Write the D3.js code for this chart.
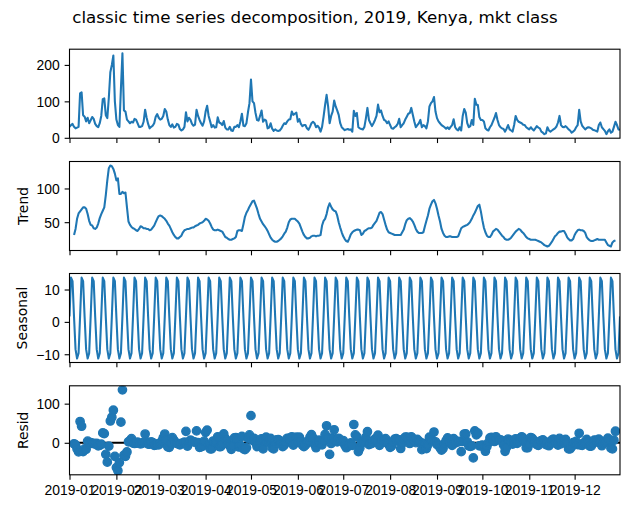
<!DOCTYPE html>
<meta charset="utf-8">
<head>
	<script src="https://cdnjs.cloudflare.com/ajax/libs/d3/7.8.5/d3.min.js"></script>
	<style>
		body {
			margin: 0;
			background: #fff;
		}
		svg {
			display: block;
			font-family: "DejaVu Sans", sans-serif;
		}
		.axis line {
			stroke: #000;
			stroke-width: 1.1px;
		}
		.axis text {
			font-size: 13.9px;
			fill: #000;
		}
		.frame {
			fill: none;
			stroke: #000;
			stroke-width: 1.1px;
		}
	</style>
</head>

<body>
	<div id="chart"></div>
</body>

<script type="text/javascript">

	// daily values, 2019-01-01 .. 2019-12-31, one row per week
	var observed = [
		30, 35, 38, 30, 26, 28, 30,
		122, 125, 62, 58, 45, 55, 40,
		48, 57, 52, 38, 32, 29, 40,
		60, 106, 108, 62, 54, 110, 180,
		200, 226, 100, 50, 35, 30, 135,
		232, 75, 72, 50, 45, 40, 44,
		42, 52, 50, 40, 30, 30, 32,
		44, 77, 55, 38, 26, 30, 33,
		40, 58, 65, 55, 50, 52, 60,
		79, 72, 50, 35, 30, 37, 28,
		30, 38, 36, 24, 20, 23, 30,
		70, 45, 55, 49, 38, 33, 36,
		77, 60, 49, 40, 33, 45, 72,
		88, 60, 45, 29, 35, 28, 29,
		56, 42, 40, 35, 46, 28, 23,
		23, 30, 20, 19, 30, 30, 35,
		29, 45, 66, 33, 32, 40, 70,
		95, 160, 100, 95, 68, 49, 47,
		60, 75, 44, 50, 47, 26, 28,
		40, 25, 19, 23, 20, 19, 20,
		25, 33, 40, 38, 45, 50, 51,
		72, 63, 66, 69, 44, 51, 38,
		32, 35, 35, 26, 22, 30, 40,
		44, 40, 29, 33, 28, 17, 30,
		58, 90, 118, 86, 40, 60, 72,
		102, 86, 75, 63, 40, 29, 25,
		21, 23, 24, 22, 23, 17, 74,
		60, 68, 29, 26, 24, 23, 30,
		54, 82, 49, 40, 32, 40, 49,
		60, 91, 70, 75, 60, 49, 47,
		40, 45, 35, 26, 25, 29, 32,
		38, 52, 29, 35, 40, 50, 58,
		66, 68, 82, 63, 45, 29, 35,
		40, 49, 29, 35, 32, 26, 45,
		86, 95, 100, 112, 72, 54, 45,
		40, 35, 32, 29, 25, 29, 24,
		30, 35, 51, 29, 23, 20, 29,
		20, 60, 79, 69, 40, 29, 32,
		49, 35, 107, 91, 90, 57, 49,
		49, 45, 26, 22, 20, 29, 35,
		45, 55, 68, 49, 35, 29, 26,
		24, 17, 25, 35, 23, 20, 17,
		35, 60, 49, 44, 42, 40, 36,
		35, 29, 26, 23, 29, 24, 20,
		26, 32, 28, 26, 17, 14, 10,
		12, 29, 20, 17, 20, 23, 26,
		31, 42, 60, 35, 30, 29, 32,
		28, 23, 20, 14, 17, 21, 29,
		35, 77, 45, 33, 28, 23, 27,
		29, 28, 26, 22, 21, 19, 17,
		35, 42, 29, 24, 19, 10, 18,
		23, 14, 17, 30, 44, 35, 23,
		22
	];

	var trend = [
		null, null, null, 31, 40, 55, 63,
		66, 69, 72, 72, 70, 62, 52,
		46, 45, 41, 40, 42, 48, 56,
		62, 67, 72, 90, 112, 130, 134,
		133, 129, 122, 112, 115, 92, 92,
		95, 93, 94, 72, 51, 46, 43,
		41, 40, 38, 37, 40, 44, 43,
		41, 41, 40, 40, 38, 39, 42,
		45, 50, 55, 59, 60, 59, 57,
		55, 52, 48, 45, 40, 35, 31,
		28, 26, 26, 28, 30, 35, 38,
		39, 40, 40, 41, 42, 42, 44,
		45, 46, 48, 49, 50, 52, 55,
		54, 52, 48, 43, 39, 38, 38,
		39, 38, 37, 36, 32, 28, 27,
		25, 24, 24, 25, 26, 28, 37,
		38, 38, 37, 47, 58, 64, 68,
		73, 77, 81, 82, 76, 70, 62,
		55, 51, 47, 44, 41, 37, 32,
		27, 24, 22, 21, 21, 22, 24,
		26, 29, 33, 36, 42, 50, 54,
		55, 55, 55, 53, 51, 48, 42,
		36, 31, 28, 26, 26, 27, 29,
		30, 30, 29, 30, 30, 31, 45,
		52, 55, 62, 72, 78, 73, 69,
		67, 66, 60, 50, 42, 35, 29,
		25, 22, 21, 26, 32, 35, 37,
		38, 39, 39, 38, 31, 33, 37,
		38, 40, 41, 41, 42, 46, 49,
		52, 58, 64, 65, 62, 54, 46,
		39, 35, 34, 33, 32, 31, 31,
		31, 31, 31, 35, 39, 47, 53,
		55, 56, 54, 51, 46, 40, 36,
		34, 34, 34, 35, 44, 52, 60,
		70, 76, 81, 83, 78, 70, 60,
		51, 40, 34, 30, 28, 28, 29,
		29, 28, 28, 28, 28, 29, 35,
		41, 43, 44, 45, 46, 48, 51,
		55, 60, 64, 69, 74, 76, 66,
		53, 42, 35, 30, 28, 28, 31,
		36, 38, 40, 39, 36, 33, 30,
		28, 25, 24, 24, 25, 27, 30,
		33, 36, 38, 40, 39, 36, 34,
		31, 28, 26, 25, 24, 24, 24,
		24, 23, 22, 21, 20, 18, 16,
		15, 14, 15, 18, 21, 25, 29,
		31, 34, 36, 36, 37, 37, 33,
		28, 25, 23, 23, 25, 31, 35,
		38, 39, 38, 38, 37, 34, 28,
		25, 23, 22, 22, 23, 24, 25,
		24, 24, 24, 24, 24, 20, 16,
		15, 14, 20, 22, 23, null, null,
		null
	];

	// one weekly cycle of the seasonal component (period 7, starting 2019-01-01)
	var seasonalPattern = [1.7, 13.7, 12.6, 1.5, -8.5, -11.3, -9.7];

	var monthLabels = ["2019-01", "2019-02", "2019-03", "2019-04", "2019-05", "2019-06",
		"2019-07", "2019-08", "2019-09", "2019-10", "2019-11", "2019-12"];

	var observedTicks = [0, 100, 200];
	var trendTicks = [50, 100];
	var seasonalTicks = [-10, 0, 10];
	var residTicks = [0, 100];

	var title = "classic time series decomposition, 2019, Kenya, mkt class";

	// additive decomposition: seasonal repeats weekly, resid is what is left over
	var seasonal = observed.map(function(v, i) { return seasonalPattern[i % 7]; });
	var resid = observed.map(function(v, i) {
		return trend[i] == null ? null : v - trend[i] - seasonal[i];
	});

	var parseMonth = d3.utcParse("%Y-%m");
	var day0 = Date.UTC(2019, 0, 1);
	var dates = observed.map(function(v, i) { return new Date(day0 + i * 864e5); });
	var monthDates = monthLabels.map(parseMonth);

	var W = 630, H = 509;
	var left = 69.5, right = 620;
	var panelH = 89;
	var tops = [49.2, 161.5, 273.5, 385.8];
	var tickLen = 4.86;
	var blue = "#1f77b4";

	var svg = d3.select("#chart").append("svg")
		.attr("width", W)
		.attr("height", H);

	svg.append("text")
		.attr("x", 315)
		.attr("y", 22.5)
		.attr("text-anchor", "middle")
		.style("font-size", "16.7px")
		.style("fill", "#000")
		.text(title);

	var x = d3.scaleUtc()
		.domain([dates[0], dates[dates.length - 1]])
		.range([left, right]);

	function padded(values) {
		var ext = d3.extent(values.filter(function(v) { return v != null; }));
		var r = ext[1] - ext[0];
		return [ext[0] - 0.05 * r, ext[1] + 0.05 * r];
	}

	var panels = [
		{ values: observed, ticks: observedTicks, label: null, kind: "line" },
		{ values: trend, ticks: trendTicks, label: "Trend", kind: "line" },
		{ values: seasonal, ticks: seasonalTicks, label: "Seasonal", kind: "line" },
		{ values: resid, ticks: residTicks, label: "Resid", kind: "dots" }
	];

	panels.forEach(function(p, k) {
		var top = tops[k], bottom = top + panelH;
		var y = d3.scaleLinear()
			.domain(padded(p.values))
			.range([bottom, top]);

		var g = svg.append("g");

		g.append("clipPath")
			.attr("id", "clip" + k)
			.append("rect")
			.attr("x", left)
			.attr("y", top)
			.attr("width", right - left)
			.attr("height", panelH);

		var plot = g.append("g").attr("clip-path", "url(#clip" + k + ")");

		if (p.kind == "line") {
			var line = d3.line()
				.defined(function(d) { return d != null; })
				.x(function(d, i) { return x(dates[i]); })
				.y(function(d) { return y(d); });

			plot.append("path")
				.datum(p.values)
				.attr("d", line)
				.style("fill", "none")
				.style("stroke", blue)
				.style("stroke-width", 2.08)
				.style("stroke-linejoin", "round");
		} else {
			plot.append("line")
				.attr("x1", x(dates[0]))
				.attr("x2", x(dates[dates.length - 1]))
				.attr("y1", y(0))
				.attr("y2", y(0))
				.style("stroke", "#000")
				.style("stroke-width", 2.08);

			plot.selectAll("circle")
				.data(p.values.map(function(v, i) { return { d: dates[i], v: v }; })
					.filter(function(o) { return o.v != null; }))
				.enter().append("circle")
				.attr("cx", function(o) { return x(o.d); })
				.attr("cy", function(o) { return y(o.v); })
				.attr("r", 4.17)
				.style("fill", blue)
				.style("stroke", blue)
				.style("stroke-width", 1.39);
		}

		var yaxis = g.append("g")
			.attr("class", "axis")
			.attr("transform", "translate(" + left + ",0)")
			.call(d3.axisLeft(y)
				.tickValues(p.ticks)
				.tickSize(tickLen)
				.tickPadding(tickLen)
				.tickFormat(d3.format("d")));
		yaxis.select(".domain").remove();
		yaxis.selectAll("text").attr("dy", "0.36em");

		var xaxis = g.append("g")
			.attr("class", "axis")
			.attr("transform", "translate(0," + bottom + ")")
			.call(d3.axisBottom(x)
				.tickValues(monthDates)
				.tickSize(tickLen)
				.tickFormat(function(d, i) { return monthLabels[i]; }));
		xaxis.select(".domain").remove();
		if (k < panels.length - 1) {
			xaxis.selectAll("text").remove();
		} else {
			xaxis.selectAll("text").attr("y", 20.7).attr("dy", null);
		}

		g.append("rect")
			.attr("class", "frame")
			.attr("x", left)
			.attr("y", top)
			.attr("width", right - left)
			.attr("height", panelH);

		if (p.label) {
			// getBBox is in the axis group's own frame, so add its offset back
			var box = yaxis.node().getBBox();
			var lx = left + box.x - 5.6 - 3.3;
			g.append("text")
				.attr("transform", "translate(" + lx + "," + (top + panelH / 2) + ")rotate(-90)")
				.attr("text-anchor", "middle")
				.style("font-size", "13.9px")
				.style("fill", "#000")
				.text(p.label);
		}
	});
</script>
